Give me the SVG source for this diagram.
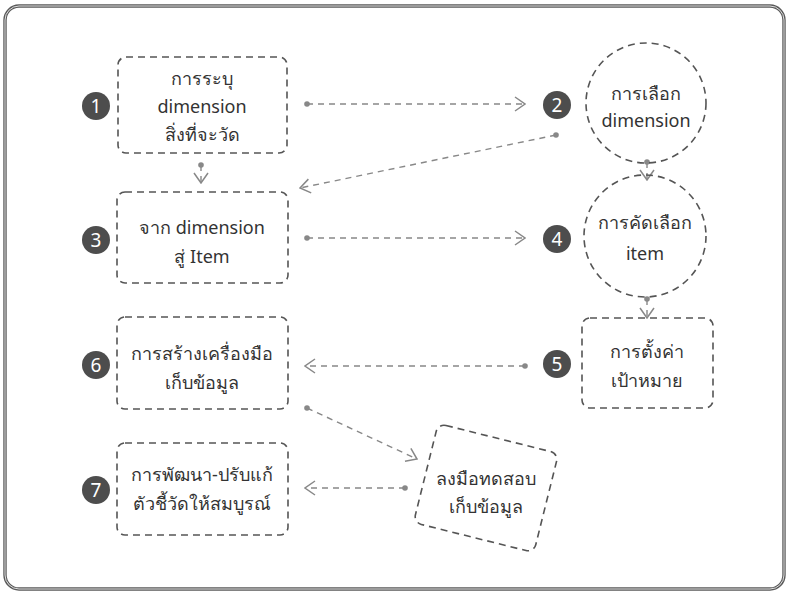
<svg xmlns="http://www.w3.org/2000/svg" width="788" height="593" viewBox="0 0 788 593">
<style>
.node{fill:none;stroke:#555;stroke-width:1.6;stroke-dasharray:7 5}
.t{font-family:"Noto Sans","Liberation Sans",sans-serif;font-size:18px;fill:#333;text-anchor:middle;dominant-baseline:central}
.badge circle{fill:#4d4d4d}
.badge text{font-family:"Noto Sans","Liberation Sans",sans-serif;font-size:19px;fill:#fff;text-anchor:middle;dominant-baseline:central}
.edge{fill:none;stroke:#888;stroke-width:1.4;stroke-dasharray:6 5;marker-start:url(#dot);marker-end:url(#arr)}
</style>
<defs>
<marker id="arr" viewBox="0 0 12 16" refX="11" refY="8" markerWidth="12" markerHeight="16" markerUnits="userSpaceOnUse" orient="auto">
<path d="M1,1 L11,8 L1,15" fill="none" stroke="#888" stroke-width="1.5"/>
</marker>
<marker id="dot" viewBox="0 0 6 6" refX="3" refY="3" markerWidth="6" markerHeight="6" markerUnits="userSpaceOnUse">
<circle cx="3" cy="3" r="2.8" fill="#888"/>
</marker>
</defs>
<rect x="0" y="0" width="788" height="593" fill="#fff"/>
<rect x="5" y="6" width="779" height="583" rx="14" fill="none" stroke="#5a5a5a" stroke-width="3.4"/>
<rect x="5" y="6" width="779" height="583" rx="14" fill="none" stroke="#fff" stroke-width="0.8"/>

<g id="connectors">
<line class="edge" x1="307" y1="104" x2="525" y2="104"/>
<line class="edge" x1="556" y1="135" x2="300" y2="188"/>
<line class="edge" x1="201" y1="165" x2="201" y2="183"/>
<line class="edge" x1="307" y1="238" x2="525" y2="238"/>
<line class="edge" x1="647" y1="162" x2="647" y2="180"/>
<line class="edge" x1="647" y1="299" x2="647" y2="318"/>
<line class="edge" x1="525" y1="366" x2="305" y2="366"/>
<line class="edge" x1="307" y1="408" x2="417" y2="459"/>
<line class="edge" x1="405" y1="488" x2="305" y2="488"/>
</g>

<g id="node1">
<rect class="node" x="118" y="57" width="169" height="96" rx="8"/>
<text class="t" x="202" y="78">การระบุ</text>
<text class="t" x="202" y="106">dimension</text>
<text class="t" x="202" y="134">สิ่งที่จะวัด</text>
<g class="badge"><circle cx="96" cy="106" r="14"/><text x="96" y="106">1</text></g>
</g>
<g id="node2">
<circle class="node" cx="646" cy="103" r="60"/>
<text class="t" x="646" y="93">การเลือก</text>
<text class="t" x="646" y="120">dimension</text>
<g class="badge"><circle cx="557" cy="105" r="14"/><text x="557" y="105">2</text></g>
</g>
<g id="node3">
<rect class="node" x="117" y="192" width="171" height="91" rx="8"/>
<text class="t" x="202" y="227">จาก dimension</text>
<text class="t" x="202" y="256">สู่ Item</text>
<g class="badge"><circle cx="96" cy="240" r="14"/><text x="96" y="240">3</text></g>
</g>
<g id="node4">
<circle class="node" cx="645" cy="236" r="61"/>
<text class="t" x="645" y="222">การคัดเลือก</text>
<text class="t" x="645" y="253">item</text>
<g class="badge"><circle cx="557" cy="239" r="14"/><text x="557" y="239">4</text></g>
</g>
<g id="node5">
<rect class="node" x="582" y="318" width="131" height="90" rx="8"/>
<text class="t" x="647" y="351">การตั้งค่า</text>
<text class="t" x="647" y="380">เป้าหมาย</text>
<g class="badge"><circle cx="557" cy="364" r="14"/><text x="557" y="364">5</text></g>
</g>
<g id="node6">
<rect class="node" x="117" y="317" width="171" height="92" rx="8"/>
<text class="t" x="202" y="353">การสร้างเครื่องมือ</text>
<text class="t" x="202" y="382">เก็บข้อมูล</text>
<g class="badge"><circle cx="96" cy="365" r="14"/><text x="96" y="365">6</text></g>
</g>
<g id="node7">
<rect class="node" x="117" y="443" width="171" height="92" rx="8"/>
<text class="t" x="202" y="474">การพัฒนา-ปรับแก้</text>
<text class="t" x="202" y="503">ตัวชี้วัดให้สมบูรณ์</text>
<g class="badge"><circle cx="96" cy="490" r="14"/><text x="96" y="490">7</text></g>
</g>
<g id="node8">
<rect class="node" x="-62" y="-51" width="124" height="102" rx="8" transform="translate(486,488) rotate(14)"/>
<text class="t" x="486" y="478">ลงมือทดสอบ</text>
<text class="t" x="486" y="506">เก็บข้อมูล</text>
</g>
</svg>
